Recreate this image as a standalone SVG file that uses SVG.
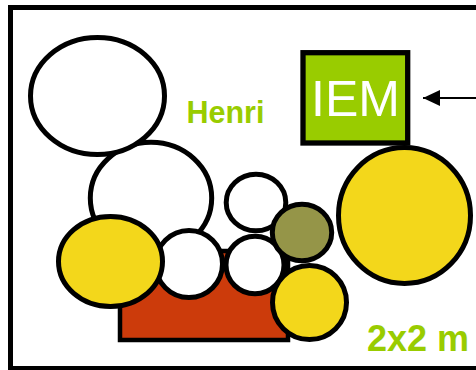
<svg xmlns="http://www.w3.org/2000/svg" width="476" height="370" viewBox="0 0 476 370">
<defs>
<style>
.c{stroke:#000;stroke-width:5}
.w{fill:#fff}
.y{fill:#f3d71b}
.o{fill:#959548}
.lbl{font-family:"Liberation Sans",Arial,sans-serif;font-weight:bold;fill:#99cc00}
</style>
<marker id="ah" markerWidth="20" markerHeight="20" refX="0" refY="0" orient="auto" markerUnits="userSpaceOnUse" viewBox="-20 -10 20 20" overflow="visible">
<path d="M0,0 L-17,-8 L-17,8 Z" fill="#000"/>
</marker>
</defs>
<rect x="0" y="0" width="476" height="370" fill="#fff"/>
<rect id="frame" x="10.5" y="7.5" width="480" height="361" fill="none" stroke="#000" stroke-width="5"/>
<g id="red-block"><rect x="120" y="251" width="168" height="89" fill="#cc3b0b" stroke="#000" stroke-width="4.5"/></g>
<g id="circle-2"><ellipse class="c w" cx="151" cy="198" rx="60.7" ry="55.7"/></g>
<g id="circle-1"><ellipse class="c w" cx="97.5" cy="96" rx="67" ry="58.5"/></g>
<g id="circle-3"><ellipse class="c w" cx="189" cy="264" rx="33.5" ry="33.5"/></g>
<g id="circle-yellow-left"><ellipse class="c y" cx="110.5" cy="261.5" rx="52" ry="45"/></g>
<g id="circle-4"><ellipse class="c w" cx="256" cy="202.5" rx="29.8" ry="28.3"/></g>
<g id="circle-5"><ellipse class="c w" cx="255" cy="265" rx="29" ry="28.8"/></g>
<g id="circle-olive"><ellipse class="c o" cx="302" cy="232.5" rx="29.7" ry="28.2"/></g>
<g id="circle-yellow-small"><ellipse class="c y" cx="309.5" cy="302.5" rx="37" ry="37"/></g>
<g id="circle-yellow-big"><ellipse class="c y" cx="404.5" cy="215.5" rx="66" ry="68"/></g>
<g id="iem">
<rect x="303" y="52.7" width="104.7" height="90.3" fill="#99cc00" stroke="#000" stroke-width="5.3"/>
<text x="355.5" y="116" text-anchor="middle" font-family="'Liberation Sans',Arial,sans-serif" font-size="50" fill="#fff">IEM</text>
</g>
<g id="connectors">
<line x1="480" y1="98" x2="423" y2="98" stroke="#000" stroke-width="2" marker-end="url(#ah)"/>
</g>
<text class="lbl" x="186.5" y="123" font-size="30.5">Henri</text>
<text class="lbl" x="367" y="351" font-size="36">2x2 m</text>
</svg>
